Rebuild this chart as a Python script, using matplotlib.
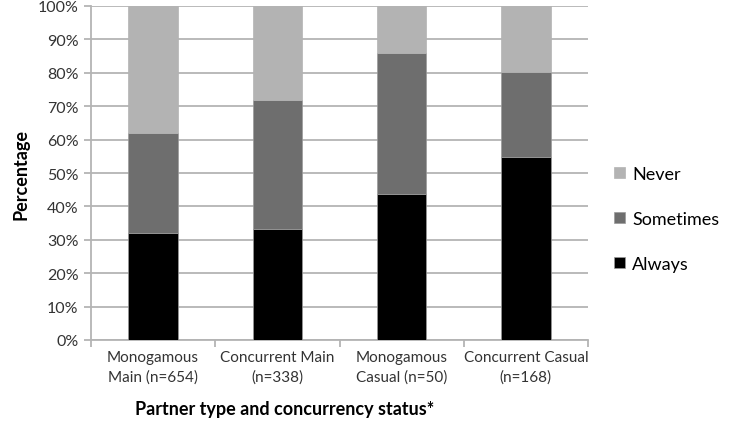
import matplotlib
matplotlib.use("Agg")
import matplotlib.pyplot as plt
import numpy as np

plt.rcParams['font.family'] = ['Lato', 'DejaVu Sans']

categories = ["Monogamous\nMain (n=654)", "Concurrent Main\n(n=338)",
              "Monogamous\nCasual (n=50)", "Concurrent Casual\n(n=168)"]
always = [32.0, 33.2, 43.8, 54.8]
sometimes = [30.0, 38.6, 42.2, 25.5]
never = [38.0, 28.2, 14.0, 19.7]
yticks = [0, 10, 20, 30, 40, 50, 60, 70, 80, 90, 100]
ytick_labels = [f"{v}%" for v in yticks]

fig = plt.figure(figsize=(7.39, 4.27), dpi=100)
ax = fig.add_axes([91/739, 86/427, (588-91)/739, (341-7)/427])

x = np.arange(len(categories))
w = 0.4
grid_c = "#b4b4b4"
ax.bar(x, always, w, color="#000000", edgecolor="#9a9a9a", linewidth=0.5, label="Always", zorder=3)
ax.bar(x, sometimes, w, bottom=always, color="#6e6e6e", edgecolor="#9a9a9a", linewidth=0.5, label="Sometimes", zorder=3)
b2 = np.array(always) + np.array(sometimes)
ax.bar(x, never, w, bottom=b2, color="#b3b3b3", edgecolor="#b3b3b3", linewidth=0.5, label="Never", zorder=3)

ax.set_xlim(-0.5, len(categories) - 0.5)
ax.set_ylim(0, 100)
ax.set_yticks(yticks)
ax.set_yticklabels(ytick_labels, fontsize=11.5, color="#333333")
ax.yaxis.grid(True, color=grid_c, linewidth=1.3, zorder=0)
ax.set_axisbelow(True)

ax.set_xticks(x)
ax.set_xticklabels(categories, fontsize=11, color="#333333", linespacing=1.5)
ax.set_xticks(np.arange(-0.5, len(categories)), minor=True)
ax.tick_params(axis='x', which='major', length=0, pad=7)
ax.tick_params(axis='x', which='minor', length=5, color=grid_c, width=1.3)
ax.tick_params(axis='y', length=5, color=grid_c, width=1.3, pad=4)

for s in ["top", "right"]:
    ax.spines[s].set_visible(False)
for s in ["left", "bottom"]:
    ax.spines[s].set_color(grid_c)
    ax.spines[s].set_linewidth(1.3)

ax.set_ylabel("Percentage", fontsize=13, fontweight="bold", labelpad=6)
fig.text(285/739, 1 - 410/427, "Partner type and concurrency status*", fontsize=13,
         fontweight="bold", ha="center", va="center")

h, l = ax.get_legend_handles_labels()
ax.legend(h[::-1], l[::-1], loc="center left", bbox_to_anchor=(598/739, 1 - 220/427),
          bbox_transform=fig.transFigure, frameon=False, fontsize=13,
          handlelength=0.6, handleheight=0.6, handletextpad=0.4, labelspacing=1.6)

fig.savefig("out.png", dpi=100)
